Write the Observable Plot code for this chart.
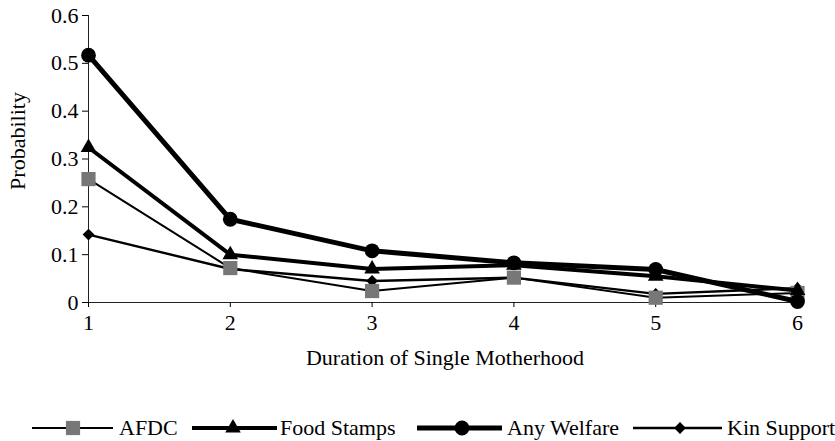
<!DOCTYPE html>
<html>
<head>
<meta charset="utf-8">
<script src="https://cdn.jsdelivr.net/npm/d3@7"></script>
<script src="https://cdn.jsdelivr.net/npm/@observablehq/plot@0.6"></script>
<style>
  body { margin: 0; background: white; font-family: 'Liberation Serif'; }
  #chart { width: 835px; }
  #chart svg text { font-family: 'Liberation Serif'; }
</style>
</head>
<body>
<div id="chart"></div>
<script>
const durations = [1, 2, 3, 4, 5, 6];
const yTicks = [0, 0.1, 0.2, 0.3, 0.4, 0.5, 0.6];
const seriesNames = ["AFDC", "Food Stamps", "Any Welfare", "Kin Support"];
const afdc = [0.258, 0.072, 0.024, 0.052, 0.010, 0.020];
const foodStamps = [0.324, 0.100, 0.070, 0.078, 0.055, 0.025];
const anyWelfare = [0.517, 0.174, 0.108, 0.083, 0.069, 0.002];
const kinSupport = [0.142, 0.070, 0.045, 0.052, 0.018, 0.030];

const FONT = "'Liberation Serif'";
const valuesBySeries = [afdc, foodStamps, anyWelfare, kinSupport];
const styles = [
  { symbol: d3.symbolSquare, r: 8, fill: "#777777", width: 2 },
  { symbol: d3.symbolTriangle, r: 5.8, fill: "black", width: 4 },
  { symbol: d3.symbolCircle, r: 7.4, fill: "black", width: 5 },
  { symbol: d3.symbolDiamond2, r: 5.3, fill: "black", width: 2.4 }
];

const rows = seriesNames.flatMap((name, i) =>
  durations.map((d, j) => ({ series: name, x: d, y: valuesBySeries[i][j] }))
);

const marks = [
  Plot.ruleY([0], { stroke: "#222", strokeWidth: 1 }),
  Plot.ruleX([1], { stroke: "#222", strokeWidth: 1 }),
  Plot.axisX({ ticks: durations, tickSize: 5, tickPadding: 7, label: null, fontSize: 22, fontFamily: FONT, tickFormat: d => String(d) }),
  Plot.axisY({ ticks: yTicks, tickSize: 6, tickPadding: 4, label: null, fontSize: 22, fontFamily: FONT, tickFormat: d => String(+d.toFixed(1)) }),
  Plot.text(["Probability"], { frameAnchor: "left", textAnchor: "middle", lineAnchor: "middle", rotate: -90, dx: -71, dy: -18, fontSize: 22, fontFamily: FONT, text: d => d, fill: "black" }),
  Plot.text(["Duration of Single Motherhood"], { frameAnchor: "bottom", textAnchor: "middle", lineAnchor: "middle", dy: 55, dx: 2, fontSize: 22, fontFamily: FONT, text: d => d, fill: "black" })
];
[3, 0, 1, 2].forEach(i => {
  const data = rows.filter(r => r.series === seriesNames[i]);
  const s = styles[i];
  marks.push(Plot.line(data, { x: "x", y: "y", stroke: "black", strokeWidth: s.width, strokeLinejoin: "round" }));
  marks.push(Plot.dot(data, { x: "x", y: "y", symbol: s.symbol, r: s.r, fill: s.fill, stroke: "none" }));
});

const plot = Plot.plot({
  width: 835,
  height: 390,
  marginLeft: 88,
  marginRight: 38,
  marginTop: 15,
  marginBottom: 88,
  x: { type: "linear", domain: [1, 6] },
  y: { type: "linear", domain: [0, 0.6] },
  style: { fontFamily: "'Liberation Serif'", fontSize: "22px", color: "black", background: "white", overflow: "visible" },
  marks
});
plot.setAttribute("font-family", "Liberation Serif");
document.getElementById("chart").appendChild(plot);

// Legend below the plot
const legendPos = [
  { x0: 32, x1: 113, m: 73, t: 119 },
  { x0: 192, x1: 277, m: 233, t: 280 },
  { x0: 417, x1: 502, m: 462, t: 507 },
  { x0: 633, x1: 722, m: 680, t: 727 }
];
const legend = d3.create("svg").attr("width", 835).attr("height", 51)
  .style("display", "block");
seriesNames.forEach((name, i) => {
  const p = legendPos[i], s = styles[i];
  const g = legend.append("g");
  g.append("line").attr("x1", p.x0).attr("x2", p.x1).attr("y1", 38).attr("y2", 38)
    .attr("stroke", "black").attr("stroke-width", s.width);
  g.append("path").attr("transform", `translate(${p.m},38)`)
    .attr("d", d3.symbol().type(s.symbol).size(Math.PI * s.r * s.r)()).attr("fill", s.fill);
  g.append("text").attr("x", p.t).attr("y", 45).attr("fill", "black")
    .attr("font-family", "Liberation Serif").attr("font-size", 22).text(name);
});
document.getElementById("chart").appendChild(legend.node());
</script>
</body>
</html>
